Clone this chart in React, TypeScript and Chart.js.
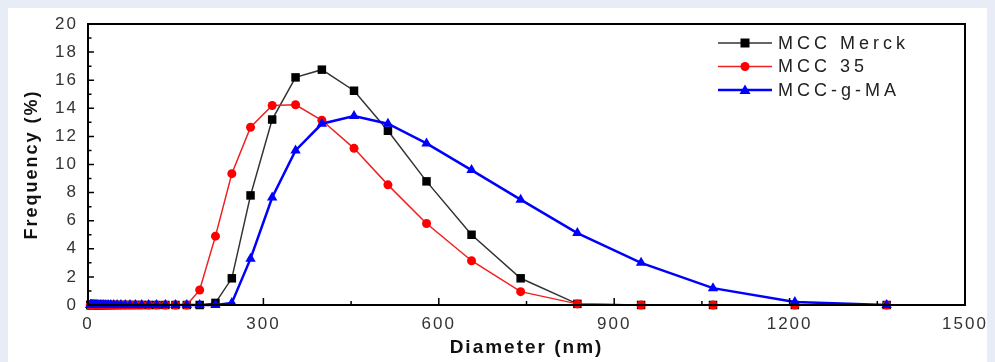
import React, { useEffect, useRef } from 'react';
import { Chart, registerables } from 'chart.js';

Chart.register(...registerables);

// Diameter bins (nm)
const diameters = [
  3.8, 4.3, 4.9, 5.5, 6.2, 7.0, 8.0, 9.0, 10.2, 11.5, 13.0, 14.7, 16.6, 18.7, 21.2, 23.9,
  27.0, 30.5, 34.5, 39.0, 44.1, 49.8, 56.3, 63.6, 71.9, 81.2, 91.8, 103.7, 117.2, 132.4, 149.6, 169,
  191, 218, 246, 278, 315, 355, 400, 455, 513, 579, 656, 740, 837, 946, 1069, 1209, 1366,
];

const mccMerck = [
  0, 0, 0, 0, 0, 0, 0, 0, 0, 0, 0, 0, 0, 0, 0, 0,
  0, 0, 0, 0, 0, 0, 0, 0, 0, 0, 0, 0, 0, 0, 0, 0,
  0, 0.15, 1.9, 7.8, 13.2, 16.2, 16.75, 15.25, 12.4, 8.8, 5.0, 1.9, 0.08, 0, 0, 0, 0,
];

const mcc35 = [
  0, 0, 0, 0, 0, 0, 0, 0, 0, 0, 0, 0, 0, 0, 0, 0,
  0, 0, 0, 0, 0, 0, 0, 0, 0, 0, 0, 0, 0, 0, 0, 0,
  1.07, 4.9, 9.35, 12.65, 14.2, 14.25, 13.15, 11.15, 8.55, 5.8, 3.15, 0.95, 0.08, 0, 0, 0, 0,
];

const mccGMA = [
  0, 0, 0, 0, 0, 0, 0, 0, 0, 0, 0, 0, 0, 0, 0, 0,
  0, 0, 0, 0, 0, 0, 0, 0, 0, 0, 0, 0, 0, 0, 0, 0,
  0, 0, 0.15, 3.3, 7.65, 11.0, 12.9, 13.45, 12.9, 11.5, 9.6, 7.5, 5.12, 3.0, 1.2, 0.22, 0,
];

const seriesNames = ['MCC Merck', 'MCC 35', 'MCC-g-MA'];
const lineColors = ['#333333', '#f02020', '#0000ff'];
const markerColors = ['#000000', '#ff0000', '#0000ff'];
const markerStyles = ['rect', 'circle', 'triangle'];

const xMajorTicks = [0, 300, 600, 900, 1200, 1500];
const xMinorTicks = [150, 450, 750, 1050, 1350];
const yMajorTicks = [0, 2, 4, 6, 8, 10, 12, 14, 16, 18, 20];
const yMinorTicks = [1, 3, 5, 7, 9, 11, 13, 15, 17, 19];

const FONT = "'Liberation Sans', Arial, sans-serif";

function drawMarker(ctx: CanvasRenderingContext2D, style: string, x: number, y: number, color: string) {
  ctx.fillStyle = color;
  ctx.beginPath();
  if (style === 'rect') {
    ctx.rect(x - 4.5, y - 4.5, 9, 9);
  } else if (style === 'circle') {
    ctx.arc(x, y, 4.5, 0, Math.PI * 2);
  } else {
    ctx.moveTo(x, y - 5.5);
    ctx.lineTo(x + 5.5, y + 4);
    ctx.lineTo(x - 5.5, y + 4);
    ctx.closePath();
  }
  ctx.fill();
}

const decorPlugin = {
  id: 'decor',
  beforeDraw(chart: any) {
    chart.ctx.letterSpacing = '2px';
  },
  afterDraw(chart: any) {
    const { ctx, chartArea: a, scales } = chart;
    ctx.save();
    ctx.letterSpacing = '0px';
    // frame
    ctx.strokeStyle = '#000';
    ctx.lineWidth = 2;
    ctx.strokeRect(a.left, a.top, a.right - a.left, a.bottom - a.top);
    // inward ticks
    ctx.lineWidth = 1.5;
    ctx.beginPath();
    yMajorTicks.forEach((v) => {
      const p = scales.y.getPixelForValue(v);
      ctx.moveTo(a.left, p);
      ctx.lineTo(a.left + 6, p);
    });
    yMinorTicks.forEach((v) => {
      const p = scales.y.getPixelForValue(v);
      ctx.moveTo(a.left, p);
      ctx.lineTo(a.left + 3.5, p);
    });
    xMajorTicks.forEach((v) => {
      const p = scales.x.getPixelForValue(v);
      ctx.moveTo(p, a.bottom);
      ctx.lineTo(p, a.bottom - 7);
    });
    xMinorTicks.forEach((v) => {
      const p = scales.x.getPixelForValue(v);
      ctx.moveTo(p, a.bottom);
      ctx.lineTo(p, a.bottom - 4);
    });
    ctx.stroke();

    // legend
    const lx0 = a.right - 247;
    const lx1 = a.right - 193;
    const mx = a.right - 220;
    const tx = a.right - 187;
    ctx.font = `18px ${FONT}`;
    ctx.letterSpacing = '4px';
    ctx.textBaseline = 'middle';
    ctx.textAlign = 'left';
    seriesNames.forEach((name, i) => {
      const y = a.top + 19 + i * 23.5;
      ctx.strokeStyle = lineColors[i];
      ctx.lineWidth = i === 2 ? 2.5 : 1.5;
      ctx.beginPath();
      ctx.moveTo(lx0, y);
      ctx.lineTo(lx1, y);
      ctx.stroke();
      drawMarker(ctx, markerStyles[i], mx, y, markerColors[i]);
      ctx.fillStyle = '#222';
      ctx.fillText(name, tx, y + 1);
    });
    ctx.restore();
  },
};

export default function App() {
  const canvasRef = useRef<HTMLCanvasElement | null>(null);

  useEffect(() => {
    document.body.style.background = '#e8ecf6';
    document.body.style.overflow = 'hidden';
    const canvas = canvasRef.current;
    if (!canvas) return;
    const series = [mccMerck, mcc35, mccGMA];
    const datasets = series.map((vals, i) => ({
      label: seriesNames[i],
      data: diameters.map((d, k) => ({ x: d, y: vals[k] })),
      borderColor: lineColors[i],
      backgroundColor: markerColors[i],
      pointBackgroundColor: markerColors[i],
      pointBorderColor: markerColors[i],
      pointStyle: markerStyles[i],
      pointRadius: i === 0 ? 6 : i === 1 ? 4.5 : 6,
      pointBorderWidth: 0,
      borderWidth: i === 2 ? 2.5 : 1.5,
      tension: 0,
      clip: false,
      order: 2 - i,
    }));
    const chart = new Chart(canvas, {
      type: 'line',
      data: { datasets },
      plugins: [decorPlugin],
      options: {
        animation: false,
        responsive: false,
        devicePixelRatio: 1,
        layout: { padding: { top: 16, right: 30, left: 0, bottom: 0 } },
        plugins: {
          legend: { display: false },
          tooltip: { enabled: false },
        },
        scales: {
          x: {
            type: 'linear',
            min: 0,
            max: 1500,
            afterFit: (s: any) => { s.height = 57; s.paddingLeft = 0; s.paddingRight = 0; },
            grid: { display: false, drawTicks: false },
            border: { display: false },
            ticks: {
              stepSize: 300,
              padding: 9,
              color: '#333',
              font: { family: FONT, size: 17 },
              callback: (v: any) => String(v),
            },
            title: {
              display: true,
              text: 'Diameter (nm)',
              color: '#111',
              font: { family: FONT, size: 19, weight: 'bold' },
              padding: { top: 0, bottom: 3 },
            },
          },
          y: {
            min: 0,
            max: 20,
            afterFit: (s: any) => { s.width = 80; s.paddingTop = 0; s.paddingBottom = 0; },
            grid: { display: false, drawTicks: false },
            border: { display: false },
            ticks: {
              stepSize: 2,
              padding: 10,
              color: '#333',
              font: { family: FONT, size: 17 },
              callback: (v: any) => String(v),
            },
            title: {
              display: true,
              text: 'Frequency (%)',
              color: '#111',
              font: { family: FONT, size: 18, weight: 'bold' },
              padding: { top: 13, bottom: 0 },
            },
          },
        },
      },
    });
    return () => chart.destroy();
  }, []);

  return (
    <div style={{ background: '#fff', width: 987, height: 354 }}>
      <canvas ref={canvasRef} width={987} height={354} style={{ display: 'block', width: 987, height: 354 }} />
    </div>
  );
}
